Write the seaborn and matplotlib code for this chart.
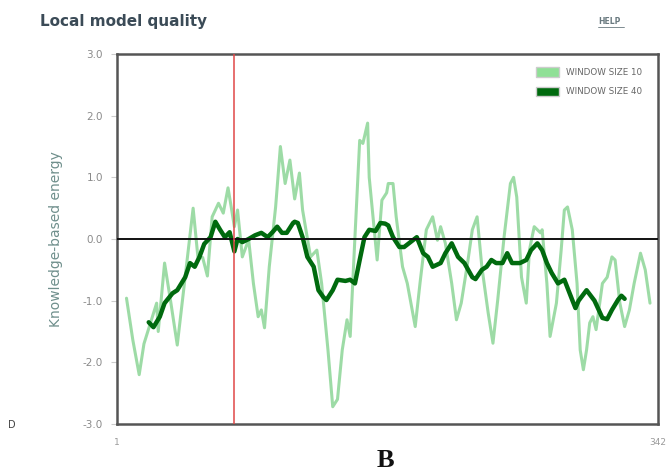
import matplotlib
matplotlib.use("Agg")
import matplotlib.pyplot as plt
from matplotlib.patches import Patch
import pandas as pd
import seaborn as sns

# ----- data -----
res_w10 = [7, 11, 15, 18, 26, 27, 31, 35, 39, 49, 52, 55, 58, 61, 65, 68, 71, 73, 75, 77,
           80, 84, 87, 90, 92, 94, 97, 101, 104, 107, 110, 113, 116, 118, 123, 127, 130,
           134, 137, 140, 143, 146, 148, 151, 154, 156, 159, 160, 165, 168, 171, 172, 175,
           177, 181, 184, 189, 192, 196, 200, 203, 205, 208, 212, 215, 218, 222, 225, 228,
           231, 235, 238, 241, 245, 249, 251, 253, 256, 259, 261, 264, 268, 269, 272, 274,
           278, 281, 283, 285, 288, 291, 293, 295, 297, 299, 301, 303, 307, 310, 313, 315,
           318, 321, 324, 327, 331, 334, 337]
energy_w10 = [-0.96, -1.64, -2.2, -1.7, -1.04, -1.5, -0.39, -1.04, -1.72, 0.5, -0.29, -0.3,
              -0.6, 0.36, 0.58, 0.42, 0.83, 0.52, 0.2, 0.47, -0.29, -0.01, -0.72, -1.26,
              -1.15, -1.44, -0.45, 0.52, 1.5, 0.9, 1.28, 0.65, 1.07, 0.47, -0.29, -0.18,
              -0.72, -1.8, -2.72, -2.6, -1.8, -1.31, -1.58, 0.03, 1.6, 1.55, 1.88, 1.0,
              -0.34, 0.63, 0.75, 0.9, 0.9, 0.36, -0.45, -0.72, -1.42, -0.72, 0.15, 0.36,
              -0.02, 0.2, -0.07, -0.72, -1.31, -1.04, -0.39, 0.15, 0.36, -0.45, -1.2,
              -1.69, -0.99, 0.03, 0.9, 1.0, 0.68, -0.62, -1.04, -0.18, 0.2, 0.1, 0.15,
              -0.72, -1.58, -1.04, -0.18, 0.47, 0.52, 0.15, -0.72, -1.8, -2.12, -1.8,
              -1.36, -1.26, -1.47, -0.72, -0.62, -0.29, -0.34, -1.04, -1.42, -1.15, -0.72,
              -0.23, -0.5, -1.04]

res_w40 = [21, 24, 28, 31, 36, 39, 44, 47, 50, 53, 56, 60, 63, 66, 69, 72, 75, 77, 80, 84,
           88, 92, 96, 99, 102, 105, 108, 112, 113, 115, 118, 121, 125, 128, 131, 133, 137,
           140, 145, 148, 151, 154, 157, 160, 164, 167, 170, 172, 175, 179, 182, 186, 190,
           194, 197, 200, 205, 208, 212, 216, 220, 225, 227, 231, 234, 237, 240, 244, 247,
           250, 255, 259, 262, 266, 269, 272, 275, 279, 283, 288, 290, 292, 297, 302, 307,
           310, 313, 317, 319, 321]
energy_w40 = [-1.35, -1.43, -1.26, -1.04, -0.88, -0.83, -0.62, -0.39, -0.45, -0.29, -0.08,
              0.03, 0.28, 0.15, 0.03, 0.11, -0.2, 0.0, -0.05, 0.0, 0.06, 0.1, 0.03, 0.11,
              0.2, 0.1, 0.1, 0.26, 0.28, 0.26, 0.03, -0.29, -0.45, -0.83, -0.94, -0.99,
              -0.83, -0.66, -0.68, -0.66, -0.72, -0.34, 0.03, 0.15, 0.13, 0.26, 0.25, 0.22,
              0.03, -0.13, -0.13, -0.05, 0.03, -0.23, -0.29, -0.45, -0.39, -0.23, -0.07,
              -0.29, -0.39, -0.62, -0.65, -0.5, -0.45, -0.34, -0.39, -0.39, -0.23, -0.39,
              -0.39, -0.34, -0.18, -0.07, -0.18, -0.39, -0.55, -0.72, -0.66, -0.99, -1.12,
              -1.0, -0.83, -1.0, -1.28, -1.3, -1.15, -0.98, -0.92, -0.97]

marker_residue = 75
n_residues = 342
y_ticks = [-3.0, -2.0, -1.0, 0.0, 1.0, 2.0, 3.0]

light_green = "#93d89c"
dark_green = "#006a0e"

sns.set_style("white")

fig = plt.figure(figsize=(6.7, 4.74), dpi=100)
ax = fig.add_axes([0.1746, 0.1055, 0.8074, 0.7805])

df10 = pd.DataFrame({"residue": res_w10, "energy": energy_w10})
df40 = pd.DataFrame({"residue": res_w40, "energy": energy_w40})

sns.lineplot(data=df10, x="residue", y="energy", ax=ax, color=light_green,
             linewidth=2.2, alpha=0.9)
sns.lineplot(data=df40, x="residue", y="energy", ax=ax, color=dark_green,
             linewidth=3.2)

ax.axhline(0, color="#111111", linewidth=1.4, zorder=3)
ax.axvline(marker_residue, color="#e04848", linewidth=1.1, zorder=3)

ax.set_xlim(1, n_residues)
ax.set_ylim(-3, 3)
ax.set_yticks(y_ticks)
ax.set_yticklabels([f"{v:.1f}" for v in y_ticks], color="#8a8a8a", fontsize=7.5)
ax.set_xticks([1, n_residues])
ax.set_xticklabels(["1", "342"], color="#9a9a9a", fontsize=6.5)
ax.tick_params(axis="y", length=4, color="#cccccc", pad=6, left=True)
ax.tick_params(axis="x", length=0, pad=10)
ax.set_xlabel("")
ax.set_ylabel("Knowledge-based energy", color="#6f8f8c", fontsize=10,
              family="Liberation Sans Narrow", labelpad=14)

for side in ax.spines.values():
    side.set_color("#555555")
    side.set_linewidth(1.8)

handles = [Patch(facecolor="#8fe096", edgecolor="#cccccc", label="WINDOW SIZE 10"),
           Patch(facecolor=dark_green, edgecolor="#cccccc", label="WINDOW SIZE 40")]
leg = ax.legend(handles=handles, loc="upper right", frameon=False, fontsize=6.3,
                handlelength=2.6, handleheight=1.3, labelspacing=1.1,
                bbox_to_anchor=(0.985, 0.985), labelcolor="#666666")

fig.text(0.06, 0.955, "Local model quality", fontsize=11, fontweight="bold",
         color="#3b4b57", va="center")
fig.text(0.893, 0.955, "HELP", fontsize=5.5, color="#6a7a80", va="center",
         fontweight="bold")
fig.add_artist(plt.Line2D([0.893, 0.932], [0.942, 0.942], color="#6a7a80", linewidth=0.6))
fig.text(0.575, 0.028, "B", fontsize=19, fontweight="bold", family="Liberation Serif",
         ha="center", va="center", color="#111111")
fig.text(0.012, 0.103, "D", fontsize=7, color="#444444", va="center")

fig.savefig("out.png", dpi=100)
